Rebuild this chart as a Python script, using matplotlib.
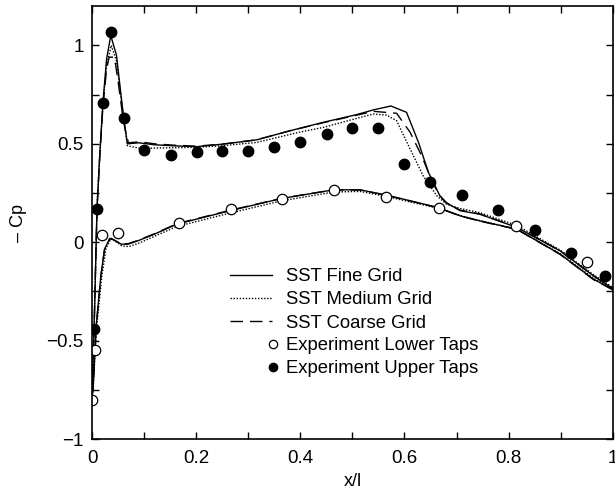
import numpy as np
import matplotlib.pyplot as plt
from matplotlib.ticker import MultipleLocator

plt.rcParams['font.family'] = ['Liberation Sans', 'DejaVu Sans']

# SST fine grid, upper and lower surface
up_fine_x = [0.0, 0.004, 0.0096, 0.015, 0.021, 0.028, 0.036, 0.047, 0.056, 0.061, 0.068,
             0.09, 0.12, 0.156, 0.2, 0.25, 0.316, 0.38, 0.444, 0.508, 0.54, 0.574, 0.604,
             0.627, 0.646, 0.668, 0.681, 0.707, 0.745, 0.816, 0.899, 0.963, 1.0]
up_fine_y = [-0.78, -0.44, 0.17, 0.45, 0.71, 0.93, 1.05, 0.95, 0.74, 0.63, 0.50,
             0.505, 0.495, 0.49, 0.485, 0.498, 0.52, 0.566, 0.609, 0.648, 0.672, 0.692, 0.66,
             0.507, 0.355, 0.236, 0.20, 0.16, 0.142, 0.075, -0.044, -0.171, -0.235]
low_fine_x = [0.0, 0.002, 0.008, 0.017, 0.024, 0.034, 0.04, 0.056, 0.069, 0.088, 0.12,
              0.163, 0.265, 0.364, 0.464, 0.515, 0.566, 0.665, 0.707, 0.745, 0.816, 0.899,
              0.963, 1.0]
low_fine_y = [-0.78, -0.75, -0.426, -0.17, -0.036, 0.019, 0.015, -0.01, -0.01, 0.007, 0.041,
              0.092, 0.16, 0.222, 0.266, 0.266, 0.239, 0.176, 0.134, 0.108, 0.066, -0.061,
              -0.188, -0.24]

# SST medium grid
up_med_x = [0.0, 0.004, 0.0096, 0.015, 0.021, 0.028, 0.037, 0.047, 0.056, 0.061, 0.068,
            0.092, 0.2, 0.25, 0.316, 0.4, 0.444, 0.508, 0.54, 0.566, 0.585, 0.611, 0.636,
            0.662, 0.681, 0.707, 0.745, 0.816, 0.899, 0.963, 1.0]
up_med_y = [-0.78, -0.44, 0.17, 0.45, 0.70, 0.90, 1.0, 0.92, 0.73, 0.62, 0.49,
            0.477, 0.482, 0.49, 0.507, 0.56, 0.583, 0.629, 0.651, 0.646, 0.617, 0.473, 0.337,
            0.236, 0.193, 0.171, 0.15, 0.085, -0.04, -0.165, -0.23]
low_med_x = [0.0, 0.002, 0.009, 0.019, 0.027, 0.037, 0.043, 0.058, 0.071, 0.09, 0.12,
             0.163, 0.265, 0.364, 0.464, 0.515, 0.566, 0.665, 0.707, 0.745, 0.816, 0.899,
             0.963, 1.0]
low_med_y = [-0.78, -0.75, -0.43, -0.17, -0.03, 0.02, 0.008, -0.02, -0.022, -0.005, 0.03,
             0.08, 0.148, 0.21, 0.255, 0.258, 0.232, 0.172, 0.135, 0.11, 0.066, -0.058,
             -0.183, -0.235]

# SST coarse grid
up_crs_x = [0.0, 0.004, 0.0096, 0.015, 0.021, 0.028, 0.033, 0.043, 0.05, 0.058, 0.063, 0.07,
            0.09, 0.12, 0.156, 0.2, 0.25, 0.316, 0.38, 0.444, 0.508, 0.54, 0.585, 0.611,
            0.633, 0.649, 0.665, 0.68, 0.707, 0.745, 0.816, 0.899, 0.963, 1.0]
up_crs_y = [-0.78, -0.44, 0.17, 0.44, 0.69, 0.88, 0.94, 0.94, 0.82, 0.66, 0.58, 0.505,
            0.51, 0.50, 0.493, 0.488, 0.498, 0.52, 0.566, 0.607, 0.645, 0.665, 0.655, 0.558,
            0.439, 0.337, 0.245, 0.20, 0.163, 0.143, 0.076, -0.044, -0.17, -0.235]
low_crs_x = low_fine_x
low_crs_y = [-0.78, -0.75, -0.43, -0.172, -0.038, 0.017, 0.014, -0.008, -0.008, 0.009, 0.043,
             0.094, 0.162, 0.223, 0.266, 0.265, 0.238, 0.175, 0.133, 0.107, 0.065, -0.062,
             -0.19, -0.242]

# experiment
exp_up_x = [0.004, 0.0096, 0.021, 0.036, 0.061, 0.1, 0.151, 0.201, 0.25, 0.30, 0.35, 0.40,
            0.451, 0.50, 0.55, 0.60, 0.65, 0.71, 0.779, 0.85, 0.92, 0.985]
exp_up_y = [-0.44, 0.168, 0.707, 1.07, 0.629, 0.466, 0.443, 0.456, 0.461, 0.465, 0.482, 0.507,
            0.548, 0.578, 0.58, 0.397, 0.308, 0.241, 0.163, 0.061, -0.056, -0.171]
exp_low_x = [0.0006, 0.006, 0.02, 0.049, 0.167, 0.266, 0.365, 0.465, 0.565, 0.666, 0.815, 0.951]
exp_low_y = [-0.80, -0.548, 0.036, 0.047, 0.095, 0.168, 0.219, 0.266, 0.23, 0.173, 0.08, -0.10]

fig = plt.figure(figsize=(6.15, 4.93), dpi=100)
ax = fig.add_axes([0.1496, 0.1095, 0.9963 - 0.1496, 0.9878 - 0.1095])

l1, = ax.plot(up_fine_x, up_fine_y, '-', color='k', lw=1.0)
ax.plot(low_fine_x, low_fine_y, '-', color='k', lw=1.0)
l2, = ax.plot(up_med_x, up_med_y, color='k', lw=1.0, linestyle=(0, (1, 1.2)))
ax.plot(low_med_x, low_med_y, color='k', lw=1.0, linestyle=(0, (1, 1.2)))
l3, = ax.plot(up_crs_x, up_crs_y, color='k', lw=1.0, linestyle=(0, (9, 5)))
ax.plot(low_crs_x, low_crs_y, color='k', lw=1.0, linestyle=(0, (9, 5)))

m1, = ax.plot(exp_low_x, exp_low_y, 'o', ms=7.5, mfc='white', mec='k', mew=0.9, linestyle='none')
m2, = ax.plot(exp_up_x, exp_up_y, 'o', ms=7.5, mfc='k', mec='k', linestyle='none')

ax.set_xlim(0, 1)
ax.set_ylim(-1, 1.2)
ax.xaxis.set_minor_locator(MultipleLocator(0.1))
ax.yaxis.set_minor_locator(MultipleLocator(0.25))
ax.set_xticks([0, 0.2, 0.4, 0.6, 0.8, 1.0])
ax.set_xticklabels(['0', '0.2', '0.4', '0.6', '0.8', '1'])
ax.set_yticks([-1, -0.5, 0, 0.5, 1])
ax.set_yticklabels(['\u22121', '\u22120.5', '0', '0.5', '1'])
ax.tick_params(which='both', direction='in', top=True, right=True, length=5, width=1,
               labelsize=13.5)
ax.tick_params(axis='x', pad=8)
ax.tick_params(axis='y', pad=6)
for s in ax.spines.values():
    s.set_linewidth(1.2)

ax.set_xlabel('x/l', fontsize=13, labelpad=4)
ax.set_ylabel('\u2013 Cp', fontsize=13, labelpad=14)

leg1 = ax.legend([l1, l2, l3], ['SST Fine Grid', 'SST Medium Grid', 'SST Coarse Grid'],
                 loc='upper left', bbox_to_anchor=(230 / 615, 1 - 268 / 493),
                 bbox_transform=fig.transFigure, frameon=False, fontsize=13.3,
                 handlelength=2.27, handletextpad=0.76, labelspacing=0.35, borderpad=0,
                 borderaxespad=0)
ax.add_artist(leg1)
ax.legend([m1, m2], ['Experiment Lower Taps', 'Experiment Upper Taps'],
          loc='upper left', bbox_to_anchor=(265.5 / 615, 1 - 337 / 493),
          bbox_transform=fig.transFigure, frameon=False, fontsize=13.3,
          handlelength=0.8, handletextpad=0.3, labelspacing=0.35, borderpad=0,
          borderaxespad=0, markerscale=0.8)

plt.savefig('out.png', dpi=100)
